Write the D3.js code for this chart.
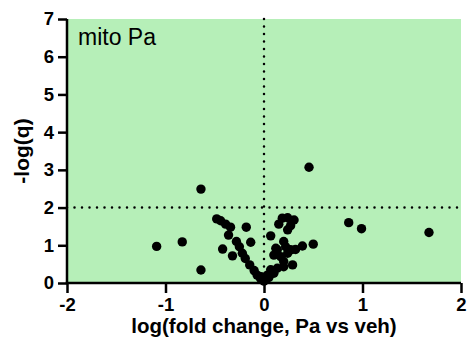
<!DOCTYPE html>
<html>
<head>
<meta charset="utf-8">
<script src="https://cdn.jsdelivr.net/npm/d3@7"></script>
<style>
  body { margin: 0; background: #fff; }
  svg { display: block; font-family: 'Liberation Sans', Arial, sans-serif; }
</style>
</head>
<body>
<div id="chart"></div>
<script>
// log fold change (x) and -log(q) (y)
const foldChange = [
  -0.64, 0.457, -1.09, -0.83, -0.64, 0.86, 0.99, 1.675, 0.50,
  -0.48, -0.44, -0.39, -0.34, -0.36, -0.18, -0.42, -0.32, -0.28, -0.25,
  -0.135, -0.22, -0.19, -0.145, -0.10, -0.07, -0.035, 0.0,
  0.186, 0.24, 0.305, 0.15, 0.24, 0.27, 0.068, 0.20, 0.39, 0.32, 0.12,
  0.10, 0.17, 0.24, 0.29, 0.20, 0.135, 0.068, 0.034, -0.03, 0.10, 0.20,
  0.135, 0.22, 0.27, 0.02, 0.05
];
const negLogQ = [
  2.49, 3.07, 0.97, 1.09, 0.345, 1.60, 1.44, 1.34, 1.03,
  1.70, 1.65, 1.56, 1.48, 1.27, 1.48, 0.90, 0.72, 1.10, 0.96,
  1.08, 0.79, 0.65, 0.48, 0.33, 0.21, 0.12, 0.05,
  1.72, 1.73, 1.67, 1.56, 1.41, 1.52, 1.25, 1.10, 0.98, 0.89, 0.92,
  0.74, 0.70, 0.79, 0.48, 0.57, 0.39, 0.35, 0.21, 0.17, 0.26, 0.43,
  0.88, 0.96, 0.88, 0.10, 0.15
];
const xTicks = [-2, -1, 0, 1, 2];
const yTicks = [0, 1, 2, 3, 4, 5, 6, 7];
const qThreshold = 2;
const panelLabel = 'mito Pa';

const points = foldChange.map((d, i) => ({ x: d, y: negLogQ[i] }));

const W = 469, H = 350;
const margin = { top: 19, right: 8, bottom: 67, left: 67 };
const width = W - margin.left - margin.right;
const height = H - margin.top - margin.bottom;

const svg = d3.select('#chart').append('svg')
  .attr('width', W)
  .attr('height', H);

const g = svg.append('g')
  .attr('transform', `translate(${margin.left},${margin.top})`);

const x = d3.scaleLinear().domain([-2, 2]).range([0, width]);
const y = d3.scaleLinear().domain([0, 7]).range([height, 0]);

g.append('rect')
  .attr('x', 0).attr('y', 0)
  .attr('width', width).attr('height', height)
  .attr('fill', '#b6efb8');

// threshold lines
g.append('line')
  .attr('x1', 0).attr('x2', width)
  .attr('y1', y(qThreshold)).attr('y2', y(qThreshold))
  .attr('stroke', '#000').attr('stroke-width', 2.5)
  .attr('stroke-dasharray', '0 7.5').attr('stroke-linecap', 'round');

g.append('line')
  .attr('x1', x(0)).attr('x2', x(0))
  .attr('y1', 0).attr('y2', height)
  .attr('stroke', '#000').attr('stroke-width', 2.5)
  .attr('stroke-dasharray', '0 7.5').attr('stroke-linecap', 'round');

g.selectAll('circle')
  .data(points)
  .enter()
  .append('circle')
  .attr('cx', d => x(d.x))
  .attr('cy', d => y(d.y))
  .attr('r', 4.7)
  .attr('fill', '#000');

const yAxis = g.append('g')
  .call(d3.axisLeft(y).tickValues(yTicks).tickSize(9).tickPadding(4).tickFormat(d => String(d)));

const xAxis = g.append('g')
  .attr('transform', `translate(0,${height})`)
  .call(d3.axisBottom(x).tickValues(xTicks).tickSize(10).tickPadding(5).tickFormat(d => String(d)));

[yAxis, xAxis].forEach(ax => {
  ax.selectAll('.tick line').attr('stroke-width', 2.5);
  ax.selectAll('text')
    .attr('fill', '#000')
    .style('font-size', '18.5px')
    .style('font-weight', 'bold')
    .style('font-family', "'Liberation Sans', Arial, sans-serif");
});

// redraw axis lines so they meet at the corner
yAxis.select('.domain').remove();
xAxis.select('.domain').remove();
g.append('line')
  .attr('x1', 0).attr('x2', 0).attr('y1', 0).attr('y2', height + 1.25)
  .attr('stroke', '#000').attr('stroke-width', 2.5);
g.append('line')
  .attr('x1', -1.25).attr('x2', width).attr('y1', height).attr('y2', height)
  .attr('stroke', '#000').attr('stroke-width', 2.5);

g.append('text')
  .attr('x', 11).attr('y', 26)
  .style('font-size', '23px')
  .text(panelLabel);

svg.append('text')
  .attr('transform', `translate(29,${margin.top + y(3.5)}) rotate(-90)`)
  .attr('text-anchor', 'middle')
  .style('font-size', '21px')
  .style('font-weight', 'bold')
  .text('-log(q)');

svg.append('text')
  .attr('x', margin.left + x(0))
  .attr('y', 333)
  .attr('text-anchor', 'middle')
  .style('font-size', '20.5px')
  .style('font-weight', 'bold')
  .text('log(fold change, Pa vs veh)');
</script>
</body>
</html>
